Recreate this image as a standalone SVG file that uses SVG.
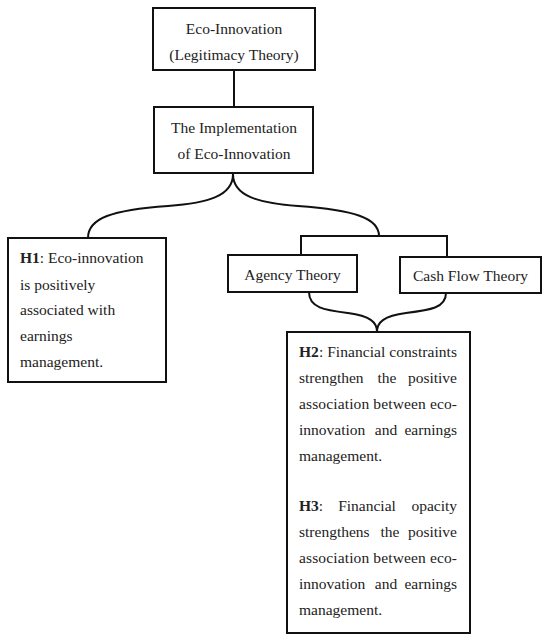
<svg xmlns="http://www.w3.org/2000/svg" width="550" height="643" viewBox="0 0 550 643">
<style>
.box{fill:#fff;stroke:#111;stroke-width:2}
.ln{fill:none;stroke:#111;stroke-width:2}
text{font-family:"Liberation Serif","DejaVu Serif",serif;font-size:15.5px;fill:#222}
.c{text-anchor:middle}
.e{text-anchor:end}
.b{font-weight:bold}
</style>
<rect width="550" height="643" fill="#fff"/>
<g id="connectors">
<line class="ln" x1="234" y1="70" x2="234" y2="107"/>
<path class="ln" d="M233,174 C233,196 208,203 168,206 C112,210 88,218 88,238"/>
<path class="ln" d="M233,174 C233,196 258,203 298,206 C354,210 379,218 379,236"/>
<path class="ln" d="M301,255 V236 H447 V257"/>
<path class="ln" d="M309,292 C309,308 325,310 348,313 C370,316 377,322 377,332"/>
<path class="ln" d="M446,293 C446,308 430,310 406,313 C384,316 377,322 377,332"/>
</g>
<g id="eco-innovation">
<rect class="box" x="153" y="8" width="162" height="62"/>
<text class="c" x="234" y="34">Eco-Innovation</text>
<text class="c" x="234" y="60">(Legitimacy Theory)</text>
</g>
<g id="implementation">
<rect class="box" x="154" y="107" width="159" height="66"/>
<text class="c" x="234" y="133">The Implementation</text>
<text class="c" x="234" y="159">of Eco-Innovation</text>
</g>
<g id="h1">
<rect class="box" x="8" y="238" width="158" height="144"/>
<text x="20" y="263"><tspan class="b">H1</tspan>: Eco-innovation</text>
<text x="20" y="290">is positively</text>
<text x="20" y="315">associated with</text>
<text x="20" y="341">earnings</text>
<text x="20" y="367">management.</text>
</g>
<g id="agency-theory">
<rect class="box" x="228" y="255" width="129" height="37"/>
<text class="c" x="292.5" y="280">Agency Theory</text>
</g>
<g id="cash-flow-theory">
<rect class="box" x="400" y="257" width="141" height="36"/>
<text class="c" x="470.5" y="281">Cash Flow Theory</text>
</g>
<g id="h2-h3">
<rect class="box" x="287" y="332" width="183" height="301"/>
<text x="299" y="357" textLength="158" lengthAdjust="spacing"><tspan class="b">H2</tspan>: Financial constraints</text>
<text x="299" y="383">strengthen</text><text class="c" x="387" y="383">the</text><text class="e" x="457" y="383">positive</text>
<text x="299" y="409" textLength="158" lengthAdjust="spacing">association between eco-</text>
<text x="299" y="435">innovation</text><text class="c" x="386" y="435">and</text><text class="e" x="457" y="435">earnings</text>
<text x="299" y="461">management.</text>
<text x="299" y="511"><tspan class="b">H3</tspan>:</text><text class="c" x="367" y="511">Financial</text><text class="e" x="457" y="511">opacity</text>
<text x="299" y="537">strengthens</text><text class="c" x="390" y="537">the</text><text class="e" x="457" y="537">positive</text>
<text x="299" y="563" textLength="158" lengthAdjust="spacing">association between eco-</text>
<text x="299" y="589">innovation</text><text class="c" x="386" y="589">and</text><text class="e" x="457" y="589">earnings</text>
<text x="299" y="615">management.</text>
</g>
</svg>
